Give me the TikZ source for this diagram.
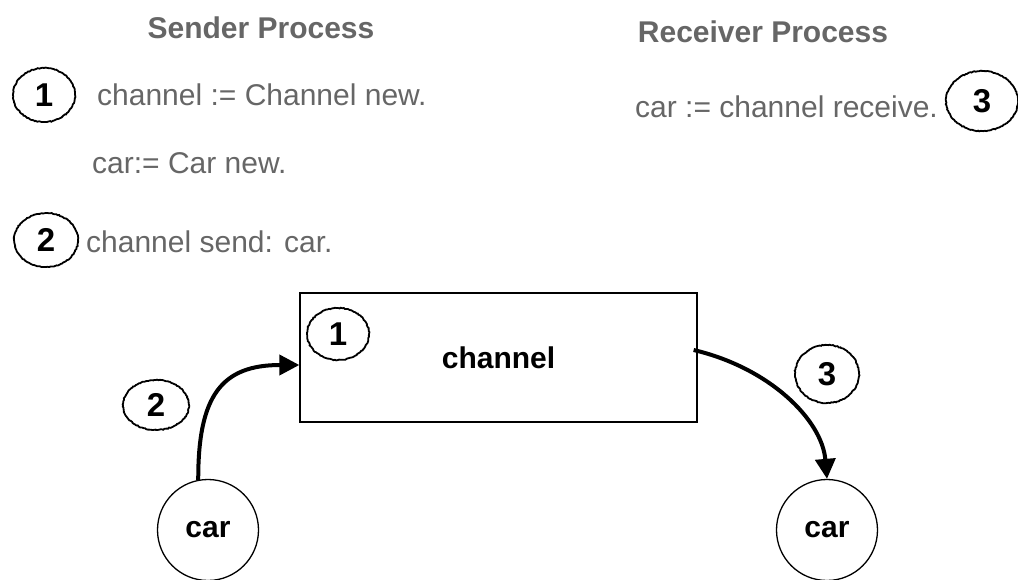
\documentclass[tikz,border=0pt]{standalone}
\usepackage{fontspec}
\setmainfont{Liberation Sans}
\usetikzlibrary{shapes.geometric,arrows.meta,decorations.pathmorphing}
\definecolor{txtgray}{HTML}{666666}
\begin{document}
\begin{tikzpicture}[x=1pt,y=-1pt,
  every node/.style={font=\fontsize{30}{36}\selectfont},
  heading/.style={text=txtgray, font=\fontsize{30}{36}\selectfont\bfseries},
  code/.style={text=txtgray, anchor=west, inner sep=0},
  num/.style={ellipse, draw, line width=1.8pt, inner sep=0, font=\fontsize{33}{38}\selectfont\bfseries,
    decorate, decoration={random steps, segment length=1.5pt, amplitude=0.45pt}},
  obj/.style={circle, draw, line width=1.3pt, minimum size=101pt, inner sep=0, font=\fontsize{30}{36}\selectfont\bfseries},
  flow/.style={line width=4pt, -{Triangle[length=20pt,width=20pt]}}]
\useasboundingbox (0,0) rectangle (1018,579);

% Sender column
\node[heading] (sh) at (261,28) {Sender Process};
\node[num, minimum width=62pt, minimum height=54pt] (n1a) at (44,95) {1};
\node[code] (c1) at (97,95) {channel := Channel new.};
\node[code] (c2) at (92,163) {car:= Car new.};
\node[num, minimum width=64pt, minimum height=54pt] (n2a) at (46,240) {2};
\node[code] (c3) at (86,242) {channel send: car.};

% Receiver column
\node[heading] (rh) at (763,32) {Receiver Process};
\node[code] (r1) at (635,107) {car := channel receive.};
\node[num, minimum width=72pt, minimum height=60pt] (n3a) at (982,101) {3};

% Diagram
\node[draw, line width=1.3pt, minimum width=397pt, minimum height=129pt, inner sep=0,
      font=\fontsize{30}{36}\selectfont\bfseries] (ch) at (498.5,357.5) {channel};
\node[num, minimum width=62pt, minimum height=52pt] (n1b) at (338,334) {1};
\node[num, minimum width=66pt, minimum height=50pt] (n2b) at (156,405) {2};
\node[num, minimum width=64pt, minimum height=58pt] (n3b) at (827,374) {3};

\node[obj] (carL) at (208,530) {car};
\node[obj] (carR) at (827,530) {car};

\draw[flow] (carL.101) .. controls (198,395) and (222,365) .. ([yshift=-7.5pt]ch.west);
\draw[flow] ([xshift=-4pt,yshift=7.5pt]ch.east) .. controls (770,368) and (822,420) .. (carR.north);
\end{tikzpicture}
\end{document}
